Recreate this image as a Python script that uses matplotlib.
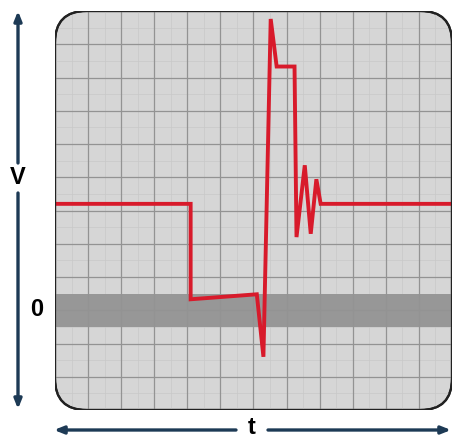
import matplotlib

matplotlib.use("Agg")
import matplotlib.pyplot as plt
from matplotlib.patches import FancyBboxPatch

# scope trace, in grid divisions (12 x 12 screen)
trace_t = [0, 4.1, 4.1, 6.1, 6.3, 6.52, 6.7, 7.24, 7.3, 7.55, 7.73, 7.9, 8.03, 12]
trace_v = [6.2, 6.2, 3.33, 3.48, 1.6, 11.76, 10.33, 10.33, 5.2, 7.36, 5.3, 6.94, 6.2, 6.2]
zero_level = 3.0
zero_band = (2.5, 3.5)
n_div = 12

W, H = 453, 441
LABEL_FONT = {"family": ["Liberation Sans", "DejaVu Sans"], "weight": "bold", "fontsize": 17}
ARROW_COLOR = "#1d3a55"


def draw_screen(fig):
    # panel spans x 55..452, y 11..410 in pixels
    ax = fig.add_axes([55 / W, (H - 410) / H, (452 - 55) / W, (410 - 11) / H])
    ax.set_xlim(0, n_div)
    ax.set_ylim(0, n_div)
    ax.set_facecolor("none")
    for side in ax.spines.values():
        side.set_visible(False)
    ax.set_xticks([])
    ax.set_yticks([])

    screen = FancyBboxPatch(
        (0, 0), n_div, n_div,
        boxstyle="round,pad=0,rounding_size=0.95",
        facecolor="#d6d6d6", edgecolor="#222222", lw=1.6, zorder=0.5,
    )
    ax.add_patch(screen)

    artists = []
    for k in range(n_div):
        artists.append(ax.axvline(k + 0.5, color="#c9c9c9", lw=0.5, zorder=1))
        artists.append(ax.axhline(k + 0.5, color="#c9c9c9", lw=0.5, zorder=1))
    artists.append(ax.axhspan(zero_band[0], zero_band[1], color="#979797", lw=0, zorder=1.5))
    for k in range(1, n_div):
        artists.append(ax.axvline(k, color="#939393", lw=0.9, zorder=2))
        artists.append(ax.axhline(k, color="#939393", lw=0.9, zorder=2))

    line, = ax.plot(trace_t, trace_v, color="#d81a2b", lw=2.8, zorder=3,
                    solid_joinstyle="miter")
    artists.append(line)
    for art in artists:
        art.set_clip_path(screen)

    # outline on top
    ax.add_patch(FancyBboxPatch(
        (0, 0), n_div, n_div,
        boxstyle="round,pad=0,rounding_size=0.95",
        facecolor="none", edgecolor="#222222", lw=1.6, zorder=4,
    ))
    return ax


def arrow(ax, start, end):
    ax.annotate(
        "", xy=end, xytext=start,
        arrowprops=dict(arrowstyle="-|>,head_length=0.55,head_width=0.22",
                        color=ARROW_COLOR, lw=2.4, shrinkA=0, shrinkB=0),
    )


def draw_axes_arrows(fig):
    over = fig.add_axes([0, 0, 1, 1])
    over.set_xlim(0, W)
    over.set_ylim(H, 0)
    over.axis("off")

    arrow(over, (18, 163), (18, 11))
    arrow(over, (18, 193), (18, 409))
    arrow(over, (236, 430), (54, 430))
    arrow(over, (268, 430), (451, 430))

    over.text(18, 178, "V", ha="center", va="center", **LABEL_FONT)
    over.text(37, 309, "0", ha="center", va="center", **LABEL_FONT)
    over.text(252, 428, "t", ha="center", va="center", **LABEL_FONT)


def main():
    fig = plt.figure(figsize=(W / 100, H / 100), dpi=100)
    fig.patch.set_facecolor("white")
    draw_screen(fig)
    draw_axes_arrows(fig)
    fig.savefig("out.png", dpi=100)


if __name__ == "__main__":
    main()
